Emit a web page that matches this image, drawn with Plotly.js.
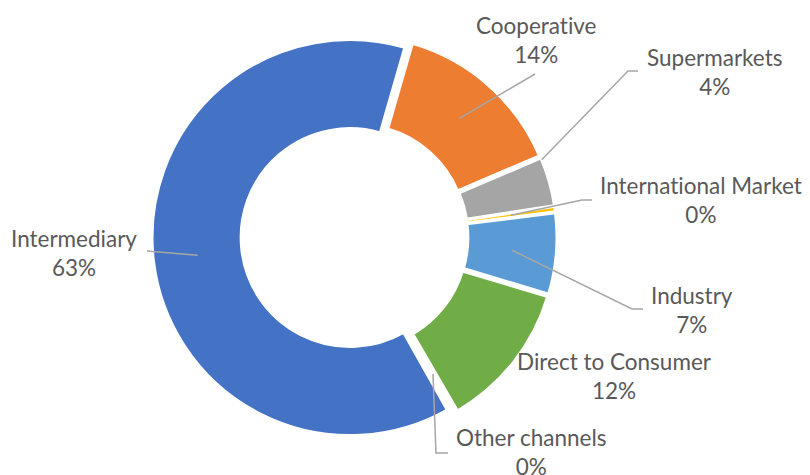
<!DOCTYPE html>
<html>
<head>
<meta charset="utf-8">
<script src="https://cdn.plot.ly/plotly-3.0.1.min.js"></script>
<style>html,body{margin:0;padding:0;background:#fff;}#chart{width:810px;height:475px;}text{font-variant-ligatures:none;font-feature-settings:"liga" 0;}</style>
</head>
<body>
<div id="chart"></div>
<script>
// ---- data ----
const categories = ['Cooperative', 'Supermarkets', 'International Market', 'Industry', 'Direct to Consumer', 'Other channels', 'Intermediary'];
const shares = [14.1, 4.0, 0.45, 6.6, 12.0, 0.2, 62.65];
const colors = ['#ED7D31', '#A5A5A5', '#FFC000', '#5B9BD5', '#70AD47', '#264478', '#4472C4'];

// ---- layout constants ----
const W = 810, H = 475;
const CX = 354.5, CY = 237, R = 198, HOLE = 0.55, PULL = 0.0227, ROT = 16.1;
const FONT = 'Lato, "Open Sans", sans-serif';
const TXT = '#595959', LINE = '#A6A6A6';

// label block centres (px) and leader-line routing (px)
const labelPos = {
  'Cooperative': [536, 40],
  'Supermarkets': [714, 72],
  'International Market': [701, 200],
  'Industry': [692, 310],
  'Direct to Consumer': [614, 376],
  'Other channels': [531, 452],
  'Intermediary': [74, 253]
};
// anchor: [fraction along slice, radial fraction in ring], then route points
const leaders = {
  'Cooperative': {a: [0.5, 0.5], pts: [[535, 74]]},
  'Supermarkets': {a: [0.04, 1.0], pts: [[628, 71], [638, 71]]},
  'International Market': {a: [0.5, 0.5], pts: [[582, 200], [592, 200]]},
  'Industry': {a: [0.5, 0.5], pts: [[632, 309], [643, 309]]},
  'Other channels': {a: [0.5, 0.5], pts: [[436, 453], [448, 453]]},
  'Intermediary': {a: [0.5, 0.5], pts: [[147, 251]]}
};

const total = shares.reduce((s, v) => s + v, 0);
const boxH = 2 * R * (1 + PULL);
const y0 = 1 - (CY + boxH / 2) / H;
const y1 = y0 + boxH / H;
const xc = CX / W;

const px = x => x / W;
const py = y => 1 - y / H;

const shapes = [];
const annotations = [];
let cum = 0;
categories.forEach((c, i) => {
  const a0 = ROT + cum / total * 360;
  const a1 = a0 + shares[i] / total * 360;
  cum += shares[i];
  const mid = (a0 + a1) / 2 * Math.PI / 180;
  const ox = PULL * R * Math.sin(mid), oy = -PULL * R * Math.cos(mid);
  const pct = Math.round(shares[i] / total * 100) + '%';
  const lp = labelPos[c];
  annotations.push({
    xref: 'paper', yref: 'paper', x: px(lp[0]), y: py(lp[1]),
    xanchor: 'center', yanchor: 'middle', align: 'center', showarrow: false,
    text: c + '<br>' + pct, font: {family: FONT, size: 22.5, color: TXT}
  });
  const ld = leaders[c];
  if (ld) {
    const ang = (a0 + ld.a[0] * (a1 - a0)) * Math.PI / 180;
    const rr = R * (HOLE + ld.a[1] * (1 - HOLE));
    const sx = CX + ox + rr * Math.sin(ang), sy = CY + oy - rr * Math.cos(ang);
    let path = 'M' + px(sx) + ',' + py(sy);
    ld.pts.forEach(p => { path += ' L' + px(p[0]) + ',' + py(p[1]); });
    shapes.push({type: 'path', xref: 'paper', yref: 'paper', path: path,
      line: {color: LINE, width: 1.5}});
  }
});

const trace = {
  type: 'pie',
  labels: categories,
  values: shares,
  sort: false,
  direction: 'clockwise',
  rotation: ROT,
  hole: HOLE,
  pull: PULL,
  textinfo: 'none',
  hoverinfo: 'label+percent',
  marker: {colors: colors, line: {color: '#FFFFFF', width: 3}},
  domain: {x: [xc - 0.3, xc + 0.3], y: [y0, y1]},
  showlegend: false
};

const layout = {
  width: W, height: H,
  margin: {l: 0, r: 0, t: 0, b: 0},
  paper_bgcolor: '#FFFFFF',
  showlegend: false,
  shapes: shapes,
  annotations: annotations
};

Plotly.newPlot('chart', [trace], layout, {displayModeBar: false, staticPlot: true});
</script>
</body>
</html>
